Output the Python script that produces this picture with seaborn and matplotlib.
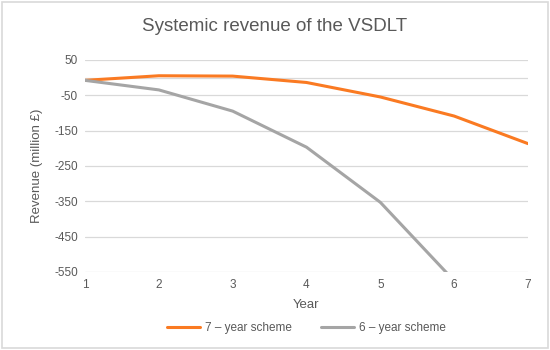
import pandas as pd
import seaborn as sns
import matplotlib.pyplot as plt
from matplotlib.patches import Rectangle

# data
years = [1, 2, 3, 4, 5, 6, 7]
rev_7yr = [-8, 5, 4, -14, -55, -109, -187]
years_6 = [1, 2, 3, 4, 5, 6]
rev_6yr = [-8, -35, -95, -197, -353, -575]
series_names = ["7 \u2013 year scheme", "6 \u2013 year scheme"]
y_ticks = [50, -50, -150, -250, -350, -450, -550]

df = pd.concat([
    pd.DataFrame({"Year": years, "Revenue": rev_7yr, "Scheme": series_names[0]}),
    pd.DataFrame({"Year": years_6, "Revenue": rev_6yr, "Scheme": series_names[1]}),
])

sns.set_style("white")
plt.rcParams["font.family"] = ["Liberation Sans", "DejaVu Sans"]
plt.rcParams["axes.unicode_minus"] = False
txt = "#595959"

fig = plt.figure(figsize=(5.5, 3.5), dpi=100)
ax = fig.add_axes([0.1545, 0.223, 0.8055, 0.606])

sns.lineplot(data=df, x="Year", y="Revenue", hue="Scheme", ax=ax,
             palette=["#FA7A22", "#A5A5A5"], linewidth=2.2, legend=True)

ax.set_xlim(1, 7)
ax.set_ylim(-550, 50)
ax.set_yticks(y_ticks)
ax.set_xticks(years)
ax.grid(axis="y", color="#D9D9D9", linewidth=0.9)
ax.axhline(0, color="#D9D9D9", linewidth=0.9, zorder=0)
for s in ax.spines.values():
    s.set_visible(False)
ax.tick_params(axis="both", length=0, colors=txt, labelsize=8.5, pad=5)
ax.set_xlabel("Year", color=txt, fontsize=9.5, labelpad=6)
ax.set_ylabel("Revenue (million \u00a3)", color=txt, fontsize=9.5, labelpad=8)

fig.suptitle("Systemic revenue of the VSDLT", x=0.5, y=0.948, color=txt, fontsize=13.5)

leg = ax.legend(loc="center", bbox_to_anchor=(0.5, -0.265), ncol=2, frameon=False,
                fontsize=8.5, handlelength=2.8, columnspacing=2.5, handletextpad=0.4)
for t in leg.get_texts():
    t.set_color(txt)

fig.patches.append(Rectangle((0.004, 0.006), 0.992, 0.988, transform=fig.transFigure,
                             fill=False, edgecolor="#D9D9D9", linewidth=1.2))

fig.savefig("out.png", dpi=100)
